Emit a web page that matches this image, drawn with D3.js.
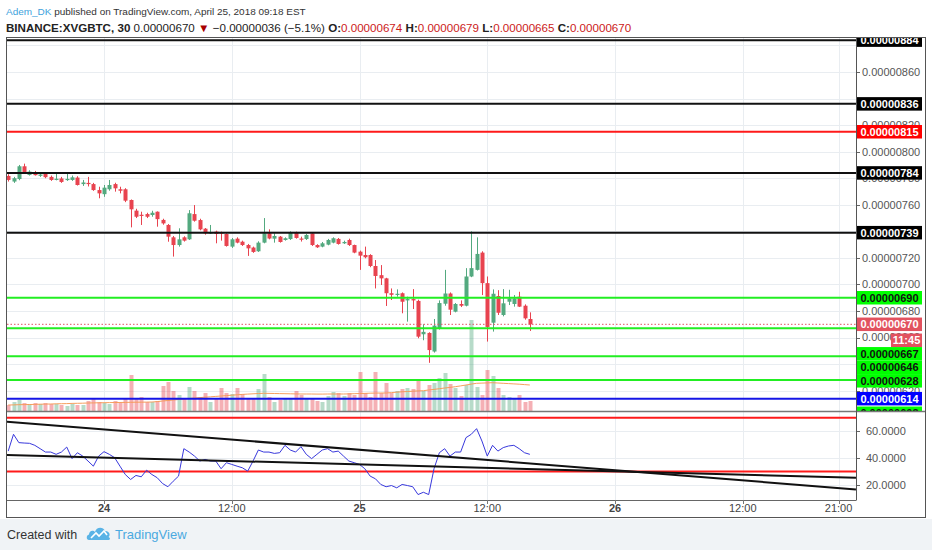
<!DOCTYPE html>
<html><head><meta charset="utf-8">
<script src="https://cdn.jsdelivr.net/npm/d3@7"></script>
<style>
html,body{margin:0;padding:0;background:#fff;}
svg{display:block;font-family:"Liberation Sans",Arial,sans-serif;}
</style></head><body>
<svg id="c" width="932" height="550"></svg>
<script>
// ---------------- DATA (prices in satoshi, 1e-8 BTC) ----------------
const firstBar = Date.UTC(2018, 3, 23, 15, 0);   // 30-minute bars
const barMinutes = 30;
const opens  = [781.7,777.5,779.4,789,782.5,784.5,781.8,783.2,781,779,779.8,778.8,778.7,780.5,775.6,776.5,775.6,771.1,768,771.7,775.6,771.7,771.7,763.6,755.6,752.5,753,752.3,754.8,748.6,744.8,735.5,729.7,735.5,734,753,748.5,742,738.6,739.8,739.2,738,728.5,734.5,732.2,729.7,727.8,725,731.5,738.5,734.5,736,733.5,734.2,739.2,734.6,734.2,738.5,729.7,728.5,730,731.5,734.3,731,733.5,729.7,724.7,722.2,722.2,713.9,707,704.6,693.4,692.5,693.4,688,689,687.6,662.5,663.5,649.5,666.8,685.5,693.2,679.5,685.3,684,706,711,724,701,671.2,691.3,677,687,685.3,690.8,684,674];
const highs  = [783,781,790,791,786,785.5,783.5,784,782,784.4,781,784,782,781.5,778.7,781,776.5,773.6,774.9,778.7,776.6,773.6,772.5,764,757,754.8,754,755.5,755,749.5,745.5,736.5,742.3,736.3,756,759.8,749.5,742.5,744.8,740.5,739.8,738.5,735,735.5,733,730.5,728.5,732.5,750,741.5,738.5,736.5,735.5,740,739.8,736,738,739,730.3,732,734.3,735.5,735,733,734.5,730,725.5,728.5,722.8,718.4,714.6,705,697,696.3,694,690.8,696.5,688.5,670,664,674,688,711,694,686,688,712.3,740,735.5,725,706,696.3,695.7,696.5,696,692,694.5,685,679];
const lows   = [777.5,776.5,778.5,783.5,782,782,781,780,778,778.4,776.5,778,778,774.5,774.2,773.8,770.5,764.9,766,770.6,769.9,768.6,762,743,750,744.8,750,751,743.5,745,732.2,721,728.5,732.3,733.5,747.3,740.8,737.5,738,731,733,728.5,727.5,731,729,721.5,723.8,724.5,731,734,731.5,731.5,733,733.5,734.5,732.3,733.5,729,727.5,728,729.5,731,730,730.5,729,723.5,711,719.7,713,697,699.6,683.8,688.3,690.8,678.3,672,681.5,659.5,658,641,648.7,666,684,677,679,683,683.5,705.5,710.5,692,657,664.5,677,676,684.5,683.3,683,673.5,665];
const closes = [778.7,780,789,784,785,782.3,782.8,780.8,778.7,779.6,777.2,779.5,780.7,774.9,776.8,775.6,771.1,768.6,772.9,774.9,772.4,770.6,763.1,756.6,751,752,751,754,749.2,746,736,729.7,734,733,753.6,748,741.5,738.5,739.2,738,738.5,729,734,731.5,729.7,727.2,724.5,731.5,738.5,734.6,736.5,732,734.8,739.5,735,734,737.3,729.7,728,731,733.5,734.8,730.5,732,729.7,724,721.7,720.5,713.9,706.4,704.6,693.4,692.2,693,687,689,688,660.7,664.3,650.6,669,686,693.2,681,685.3,684,706,712.3,723,701,668,693,678.7,685.8,689.5,689.5,683.3,674.5,670];
const volumes = [6,9,11,8,7,8,7,8,7,7,6,5,7,6,6,10,12,9,8,7,10,8,12,36,12,14,9,9,10,25,29,20,16,12,24,20,14,18,9,13,23,18,17,23,17,12,13,22,37,14,9,11,12,12,20,16,13,12,10,9,15,19,18,15,18,16,39,18,14,39,18,28,18,20,22,23,22,30,20,26,28,33,38,27,23,15,26,91,24,16,41,35,23,16,14,12,16,9,10];
const volumeMA = [6.0,6.1,6.3,6.4,6.5,6.6,6.8,6.9,7.0,7.2,7.3,7.4,7.6,7.7,7.8,8.0,8.1,8.2,8.3,8.4,8.5,8.5,8.6,8.7,8.8,8.8,8.9,9.0,9.4,10.0,10.5,11.0,11.5,12.0,12.5,13.0,13.4,13.8,14.2,14.6,15.0,15.4,15.8,16.2,16.6,16.9,17.2,17.5,17.7,17.6,17.5,17.4,17.3,17.2,17.1,17.0,17.0,17.0,16.9,16.9,17.0,17.0,17.0,17.0,17.1,17.3,17.5,17.6,17.8,17.9,18.0,18.0,18.4,18.8,19.2,19.5,19.8,20.1,20.3,21.0,21.6,22.3,23.0,23.6,24.3,25.1,26.0,26.9,27.7,27.9,28.1,28.3,28.0,27.7,27.4,27.1,26.8,26.4,26.0];
const rsi = [45.2,57.7,51.5,51.2,51.0,49.5,47.0,44.5,44.5,42.8,44.5,48.2,39.6,44.0,41.5,37.8,34.0,41.5,44.8,42.8,40.3,34.0,27.8,24.1,27.1,26.1,31.0,27.8,25.4,21.1,18.7,22.8,26.6,47.0,44.5,41.5,37.8,39.0,37.8,37.8,32.1,36.6,35.3,34.0,32.8,30.3,37.8,46.0,44.5,44.5,43.5,44.0,49.5,46.0,44.5,48.5,42.8,39.6,42.8,46.0,47.0,44.5,45.2,41.5,37.8,36.6,35.3,32.1,26.6,24.6,20.4,18.7,19.6,17.9,20.4,19.6,18.7,12.9,14.6,12.9,32.1,44.0,47.0,41.5,44.5,44.5,55.2,57.7,61.9,52.7,41.5,49.5,45.2,47.8,49.0,49.5,47.0,44.0,42.8];
const levelValues = [884, 836, 815, 784, 739, 690, 667, 646, 628, 614, 603];
const levelKinds  = ["black","black","red","black","black","green","green","green","green","blue","green"];
const priceTicks = [620,660,680,700,720,760,780,800,820,860];
const gridValues = [620,640,660,680,700,720,740,760,780,800,820,840,860,880];
const rsiTicks = [20, 40, 60];
const rsiBands = [70, 30];
const rsiTrendlines = [
  [[Date.UTC(2018,3,23,14,53), 67.1], [Date.UTC(2018,3,26,22,38), 16.7]],
  [[Date.UTC(2018,3,23,14,53), 42.3], [Date.UTC(2018,3,26,22,38), 25.4]]
];
const timeTicks = [
  {t: Date.UTC(2018,3,24,0,0),  label: "24",    day: true},
  {t: Date.UTC(2018,3,24,12,0), label: "12:00", day: false},
  {t: Date.UTC(2018,3,25,0,0),  label: "25",    day: true},
  {t: Date.UTC(2018,3,25,12,0), label: "12:00", day: false},
  {t: Date.UTC(2018,3,26,0,0),  label: "26",    day: true},
  {t: Date.UTC(2018,3,26,12,0), label: "12:00", day: false},
  {t: Date.UTC(2018,3,26,21,0), label: "21:00", day: false}
];
const symbol = "BINANCE:XVGBTC, 30";
const change = -36, changePct = -5.1;
const countdown = "11:45";

// ---------------- LAYOUT ----------------
const L = 7, R = 856, AR = 925, TOP = 37.5, PB = 411, RB = 500, XB = 517.5;
const bars = opens.map((o, i) => ({
  t: new Date(firstBar + i * barMinutes * 60000), o, h: highs[i], l: lows[i], c: closes[i],
  v: volumes[i], ma: volumeMA[i], rsi: rsi[i]
}));
const fmt = v => (v * 1e-8).toFixed(8);

const svg = d3.select("#c");
const x = d3.scaleUtc().domain([new Date(Date.UTC(2018,3,24)), new Date(Date.UTC(2018,3,26))]).range([104, 615]);
const y = d3.scaleLinear().domain([620, 860]).range([390.7, 72]);
const yVol = d3.scaleLinear().domain([0, 100]).range([PB, PB - 100]);
const yR = d3.scaleLinear().domain([20, 60]).range([485, 431.2]);

const kindStyle = {
  black: {line: "#111", bg: "#000", fg: "#fff"},
  red:   {line: "#ff1a1a", bg: "#ff0000", fg: "#fff"},
  green: {line: "#22ee22", bg: "#00ff00", fg: "#111"},
  blue:  {line: "#1515e6", bg: "#0000ff", fg: "#fff"}
};
const upC = "#53a97f", dnC = "#e8434f", priceC = "#e2525f";

// backgrounds
svg.append("rect").attr("x", 0).attr("y", 0).attr("width", 932).attr("height", 519).attr("fill", "#fff");
svg.append("rect").attr("x", 0).attr("y", 519).attr("width", 932).attr("height", 31).attr("fill", "#f0f3f6");

const defs = svg.append("defs");
defs.append("clipPath").attr("id", "cp").append("rect").attr("x", L).attr("y", TOP).attr("width", R - L).attr("height", PB - TOP);
defs.append("clipPath").attr("id", "cr").append("rect").attr("x", L).attr("y", PB).attr("width", R - L).attr("height", RB - PB);
defs.append("clipPath").attr("id", "ca").append("rect").attr("x", R).attr("y", TOP).attr("width", AR - R).attr("height", PB - TOP);

// grid
const grid = svg.append("g");
grid.selectAll(".vg").data(timeTicks).join("line")
  .attr("x1", d => Math.round(x(new Date(d.t))) + 0.5).attr("x2", d => Math.round(x(new Date(d.t))) + 0.5)
  .attr("y1", TOP).attr("y2", RB).attr("stroke", "#e9edf1");
grid.append("g").attr("clip-path", "url(#cp)").selectAll("line").data(gridValues).join("line")
  .attr("x1", L).attr("x2", R).attr("y1", d => Math.round(y(d)) + 0.5).attr("y2", d => Math.round(y(d)) + 0.5).attr("stroke", "#e9edf1");
grid.append("g").selectAll("line").data(rsiTicks).join("line")
  .attr("x1", L).attr("x2", R).attr("y1", d => Math.round(yR(d)) + 0.5).attr("y2", d => Math.round(yR(d)) + 0.5).attr("stroke", "#e9edf1");

// price pane
const pp = svg.append("g").attr("clip-path", "url(#cp)");
pp.selectAll(".vol").data(bars).join("rect")
  .attr("x", d => Math.round(x(d.t)) - 1.5).attr("width", 4)
  .attr("y", d => yVol(d.v)).attr("height", d => PB - yVol(d.v))
  .attr("fill", d => d.c >= d.o ? upC : dnC).attr("opacity", 0.42);
pp.append("path").datum(bars)
  .attr("d", d3.line().x(d => x(d.t)).y(d => yVol(d.ma)))
  .attr("fill", "none").attr("stroke", "#f59a55").attr("stroke-opacity", 0.95).attr("stroke-width", 1);

const cg = pp.append("g");
cg.selectAll(".wick").data(bars).join("line")
  .attr("x1", d => Math.round(x(d.t)) + 0.5).attr("x2", d => Math.round(x(d.t)) + 0.5)
  .attr("y1", d => y(d.h)).attr("y2", d => y(d.l))
  .attr("stroke", d => d.c >= d.o ? upC : dnC).attr("stroke-width", 1);
cg.selectAll(".body").data(bars).join("rect")
  .attr("x", d => Math.round(x(d.t)) - 1.5).attr("width", 4)
  .attr("y", d => y(Math.max(d.o, d.c)))
  .attr("height", d => Math.max(1.2, Math.abs(y(d.o) - y(d.c))))
  .attr("fill", d => d.c >= d.o ? upC : dnC);

const last = bars[bars.length - 1];
pp.append("line").attr("x1", L).attr("x2", R).attr("y1", y(last.c)).attr("y2", y(last.c))
  .attr("stroke", priceC).attr("stroke-width", 1).attr("stroke-dasharray", "1.5,2");

pp.selectAll(".lvl").data(levelValues).join("line")
  .attr("x1", L).attr("x2", R).attr("y1", d => y(d)).attr("y2", d => y(d))
  .attr("stroke", (d, i) => kindStyle[levelKinds[i]].line).attr("stroke-width", 2);

// price axis
const ax = svg.append("g").attr("clip-path", "url(#ca)");
ax.selectAll(".tk").data(gridValues).join("line")
  .attr("x1", R).attr("x2", R + 4).attr("y1", d => Math.round(y(d)) + 0.5).attr("y2", d => Math.round(y(d)) + 0.5).attr("stroke", "#666");
ax.selectAll(".tl").data(priceTicks).join("text")
  .attr("x", 862).attr("y", d => y(d)).attr("dy", "0.35em")
  .attr("fill", "#555").style("font-size", "11px").text(d => fmt(d));

// labels with push-down layout
const H = 13.5;
const labs = levelValues.map((v, i) => ({y0: y(v), text: fmt(v), bg: kindStyle[levelKinds[i]].bg, fg: kindStyle[levelKinds[i]].fg, x0: 857, w: 65}));
labs.push({y0: y(last.c), text: fmt(last.c), bg: priceC, fg: "#fff", x0: 857, w: 65, price: true});
labs.sort((a, b) => a.y0 - b.y0);
const pi = labs.findIndex(d => d.price);
labs.splice(pi + 1, 0, {y0: y(last.c) + 15.5, text: countdown, bg: priceC, fg: "#fff", x0: 891, w: 31, gap: 2.5});
let prevBottom = -1e9;
labs.forEach(d => {
  let top = d.y0 - H / 2;
  const minTop = prevBottom + (d.gap || 0);
  if (top < minTop) top = minTop;
  d.top = top; prevBottom = top + H;
});
const lg = ax.selectAll(".lab").data(labs).join("g");
lg.append("rect").attr("x", d => d.x0).attr("y", d => d.top).attr("width", d => d.w).attr("height", H).attr("fill", d => d.bg);
lg.append("text").attr("x", d => d.x0 + d.w / 2).attr("y", d => d.top + H / 2).attr("dy", "0.36em")
  .attr("text-anchor", "middle").attr("fill", d => d.fg).style("font-size", "11px").style("font-weight", "bold").text(d => d.text);

// RSI pane
const rp = svg.append("g").attr("clip-path", "url(#cr)");
rp.selectAll(".band").data(rsiBands).join("line")
  .attr("x1", L).attr("x2", R).attr("y1", d => yR(d)).attr("y2", d => yR(d)).attr("stroke", "#ff1a1a").attr("stroke-width", 2);
rp.append("path").datum(bars)
  .attr("d", d3.line().x(d => x(d.t)).y(d => yR(d.rsi)))
  .attr("fill", "none").attr("stroke", "#3838dc").attr("stroke-width", 1);
rp.selectAll(".tr").data(rsiTrendlines).join("line")
  .attr("x1", d => x(new Date(d[0][0]))).attr("y1", d => yR(d[0][1]))
  .attr("x2", d => x(new Date(d[1][0]))).attr("y2", d => yR(d[1][1]))
  .attr("stroke", "#111").attr("stroke-width", 2);
svg.selectAll(".rtk").data(rsiTicks).join("line")
  .attr("x1", R).attr("x2", R + 4).attr("y1", d => Math.round(yR(d)) + 0.5).attr("y2", d => Math.round(yR(d)) + 0.5).attr("stroke", "#666");
svg.selectAll(".rtl").data(rsiTicks).join("text")
  .attr("x", 866).attr("y", d => yR(d)).attr("dy", "0.35em")
  .attr("fill", "#555").style("font-size", "11px").text(d => d.toFixed(4));

// frame & separators
svg.append("line").attr("x1", L).attr("x2", AR).attr("y1", PB + 0.5).attr("y2", PB + 0.5).attr("stroke", "#777").attr("stroke-width", 1.5);
svg.append("line").attr("x1", L).attr("x2", R).attr("y1", RB + 0.5).attr("y2", RB + 0.5).attr("stroke", "#666");
svg.append("line").attr("x1", R + 0.5).attr("x2", R + 0.5).attr("y1", TOP).attr("y2", RB + 0.5).attr("stroke", "#555");
svg.append("rect").attr("x", L - 0.5).attr("y", TOP).attr("width", AR - L + 1).attr("height", XB - TOP)
  .attr("fill", "none").attr("stroke", "#555").attr("stroke-width", 1);

// time axis
const xa = svg.append("g");
xa.selectAll("line").data(timeTicks).join("line")
  .attr("x1", d => Math.round(x(new Date(d.t))) + 0.5).attr("x2", d => Math.round(x(new Date(d.t))) + 0.5)
  .attr("y1", RB).attr("y2", RB + 4).attr("stroke", "#777");
xa.selectAll("text").data(timeTicks).join("text")
  .attr("x", d => x(new Date(d.t))).attr("y", 512).attr("text-anchor", "middle")
  .attr("fill", "#444").style("font-size", "11px").style("font-weight", d => d.day ? "bold" : "normal").text(d => d.label);

// header
function fit(sel, target, base) {
  const w = sel.node().getComputedTextLength();
  sel.style("font-size", (base * target / w) + "px");
}
const h1 = svg.append("text").attr("x", 6).attr("y", 15).style("font-size", "12px");
h1.append("tspan").attr("fill", "#3ea2dc").text("Adem_DK");
h1.append("tspan").attr("fill", "#333").text(" published on TradingView.com, April 25, 2018 09:18 EST");
fit(h1, 300, 12);

const h2 = svg.append("text").attr("x", 6).attr("y", 32).style("font-size", "12px").attr("fill", "#222");
h2.append("tspan").style("font-weight", "bold").text(symbol);
h2.append("tspan").text(" " + fmt(last.c) + " ");
h2.append("tspan").attr("fill", "#a80000").text("▼");
h2.append("tspan").text(" \u2212" + fmt(-change) + " (\u2212" + Math.abs(changePct) + "%) ");
[["O:", last.o], ["H:", last.h], ["L:", last.l], ["C:", last.c]].forEach((p, i) => {
  h2.append("tspan").style("font-weight", "bold").text((i ? " " : "") + p[0]);
  h2.append("tspan").attr("fill", "#cc1a1a").text(fmt(p[1]));
});
fit(h2, 626, 12);

// footer
svg.append("text").attr("x", 7).attr("y", 539).attr("fill", "#333").style("font-size", "12.5px").text("Created with");
const logo = svg.append("g").attr("transform", "translate(86,526)");
logo.append("path").attr("d", "M3,14 C0,14 0,9 3,8.5 C3,5 7,3.5 9,6 C10,1 17,0 19,5 C23,4.5 25,9 22.5,11 C25,12.5 24,14 22,14 Z").attr("fill", "#59b3e6");
logo.append("path").attr("d", "M5,12 L10,7 L13,10 L18,5 L21,9").attr("fill", "none").attr("stroke", "#fff").attr("stroke-width", 1.6);
svg.append("text").attr("x", 115).attr("y", 539).attr("fill", "#4ba9e0").style("font-size", "13px").text("TradingView");
</script>
</body></html>
